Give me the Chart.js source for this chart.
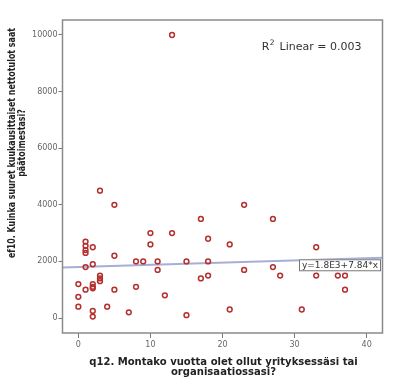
<!DOCTYPE html>
<html>
<head>
<meta charset="utf-8">
<script src="https://cdn.jsdelivr.net/npm/chart.js@4.4.0/dist/chart.umd.min.js"></script>
<style>
  html, body { margin: 0; padding: 0; background: #fff; }
</style>
</head>
<body>
<canvas id="canvas" width="400" height="390"></canvas>
<script>
// q12: years in company (x), ef10: monthly net income (y)
var years = [13, 3, 5, 23, 17, 27, 10, 13, 18, 10, 21, 1, 1, 1, 1, 2, 33, 5, 1, 2, 8,
             9, 11, 15, 18, 11, 23, 27, 17, 18, 28, 33, 36, 37, 37, 3, 3, 3, 2, 2, 2,
             0, 1, 5, 8, 0, 12, 0, 4, 2, 2, 7, 15, 21, 31];
var income = [10000, 4500, 4000, 4000, 3500, 3500, 3000, 3000, 2800, 2600, 2600, 2700, 2550, 2400, 2300, 2500, 2500, 2200, 1800, 1900, 2000,
              2000, 2000, 2000, 2000, 1700, 1700, 1800, 1400, 1500, 1500, 1500, 1500, 1500, 1000, 1500, 1400, 1300, 1200, 1100, 1050,
              1200, 1000, 1000, 1100, 750, 800, 400, 400, 250, 50, 200, 100, 300, 300];

var xTicks = [0, 10, 20, 30, 40];
var yTicks = [0, 2000, 4000, 6000, 8000, 10000];

// linear fit
var fitIntercept = 1800;
var fitSlope = 7.84;
var fitLabel = 'y=1.8E3+7.84*x';
var r2Value = '0.003';

var xTitle = ['q12. Montako vuotta olet ollut yrityksessäsi tai', 'organisaatiossasi?'];
var yTitle = ['ef10. Kuinka suuret kuukausittaiset nettotulot saat', 'päätoimestasi?'];

var FONT = '"DejaVu Sans", sans-serif';
var X_MIN = -2.2, X_MAX = 42.2, Y_MIN = -530, Y_MAX = 10530;

var points = years.map(function (x, i) { return { x: x, y: income[i] }; });
var fitLine = [X_MIN, X_MAX].map(function (x) { return { x: x, y: fitIntercept + fitSlope * x }; });

// bold font size so that text is about `target` px wide
function fitSize(ctx, text, target) {
  ctx.font = 'bold 10px ' + FONT;
  return Math.min(10.5, 10 * target / ctx.measureText(text).width);
}

var framePlugin = {
  id: 'frame',
  afterDraw: function (chart) {
    var ctx = chart.ctx, a = chart.chartArea;
    var xs = chart.scales.x, ys = chart.scales.y;
    ctx.save();
    // plot frame
    ctx.strokeStyle = '#8a8a8a';
    ctx.lineWidth = 1.5;
    ctx.strokeRect(a.left, a.top, a.right - a.left, a.bottom - a.top);

    // R² text
    ctx.fillStyle = '#333';
    ctx.textBaseline = 'alphabetic';
    ctx.font = '11px ' + FONT;
    var rest = ' Linear = ' + r2Value;
    var wRest = ctx.measureText(rest).width;
    ctx.font = '7.5px ' + FONT;
    var wSup = ctx.measureText('2').width;
    ctx.font = '11px ' + FONT;
    var wR = ctx.measureText('R').width;
    var right = a.right - 19, base = a.top + 30;
    var x0 = right - wRest - wSup - wR - 4;
    ctx.textAlign = 'left';
    ctx.fillText('R', x0, base);
    ctx.font = '7.5px ' + FONT;
    ctx.fillText('2', x0 + wR + 0.5, base - 5);
    ctx.font = '11px ' + FONT;
    ctx.fillText(rest, x0 + wR + wSup + 2, base);

    // fit equation box
    ctx.font = '9px ' + FONT;
    var tw = ctx.measureText(fitLabel).width;
    var bw = tw + 6, bh = 12;
    var bx = a.right - 1.5 - bw;
    var by = ys.getPixelForValue(fitIntercept + fitSlope * xs.getValueForPixel(bx)) - 1;
    ctx.fillStyle = '#fff';
    ctx.fillRect(bx, by, bw, bh);
    ctx.strokeStyle = '#777';
    ctx.lineWidth = 1;
    ctx.strokeRect(bx + 0.5, by + 0.5, bw - 1, bh - 1);
    ctx.fillStyle = '#333';
    ctx.textBaseline = 'middle';
    ctx.fillText(fitLabel, bx + 3, by + bh / 2 + 0.5);

    // axis titles
    ctx.fillStyle = '#222';
    ctx.textAlign = 'center';
    ctx.textBaseline = 'middle';
    var size = fitSize(ctx, xTitle[0], 269);
    ctx.font = 'bold ' + size + 'px ' + FONT;
    ctx.fillText(xTitle[0], 223.5, 362);
    ctx.fillText(xTitle[1], 223.5, 372.5);
    // y title: same size, squeezed along its length
    var squeeze = Math.min(1, 230 / ctx.measureText(yTitle[0]).width);
    ctx.translate(12, 143);
    ctx.rotate(-Math.PI / 2);
    ctx.scale(squeeze, 1);
    ctx.fillText(yTitle[0], 0, 0);
    ctx.fillText(yTitle[1], 0, 10.5);
    ctx.restore();
  }
};

var tickFont = { family: FONT, size: 8 };
var plainNumber = function (v) { return String(v); };

new Chart(document.getElementById('canvas').getContext('2d'), {
  type: 'scatter',
  data: {
    datasets: [{
      type: 'scatter',
      label: 'data',
      data: points,
      order: 1,
      pointStyle: 'circle',
      pointRadius: 2.4,
      pointBorderWidth: 1.5,
      borderColor: '#b3302e',
      backgroundColor: 'rgba(0,0,0,0)'
    }, {
      type: 'line',
      label: 'fit',
      data: fitLine,
      order: 2,
      borderColor: '#a7aed6',
      borderWidth: 2,
      pointRadius: 0,
      fill: false
    }]
  },
  options: {
    responsive: false,
    animation: false,
    layout: { padding: { top: 20, right: 17.5, left: 0, bottom: 0 } },
    plugins: {
      legend: { display: false },
      tooltip: { enabled: false }
    },
    scales: {
      x: {
        type: 'linear',
        min: X_MIN,
        max: X_MAX,
        afterBuildTicks: function (s) { s.ticks = xTicks.map(function (v) { return { value: v }; }); },
        afterFit: function (s) { s.height = 57; },
        grid: { drawOnChartArea: false, drawTicks: true, tickLength: 5, tickColor: '#777', lineWidth: 1 },
        border: { display: false },
        ticks: { font: tickFont, color: '#666', padding: 2, maxRotation: 0, autoSkip: false, callback: plainNumber }
      },
      y: {
        type: 'linear',
        min: Y_MIN,
        max: Y_MAX,
        afterBuildTicks: function (s) { s.ticks = yTicks.map(function (v) { return { value: v }; }); },
        afterFit: function (s) { s.width = 62.5; },
        grid: { drawOnChartArea: false, drawTicks: true, tickLength: 4, tickColor: '#777', lineWidth: 1 },
        border: { display: false },
        ticks: { font: tickFont, color: '#666', padding: 1, autoSkip: false, callback: plainNumber }
      }
    }
  },
  plugins: [framePlugin]
});
</script>
</body>
</html>
